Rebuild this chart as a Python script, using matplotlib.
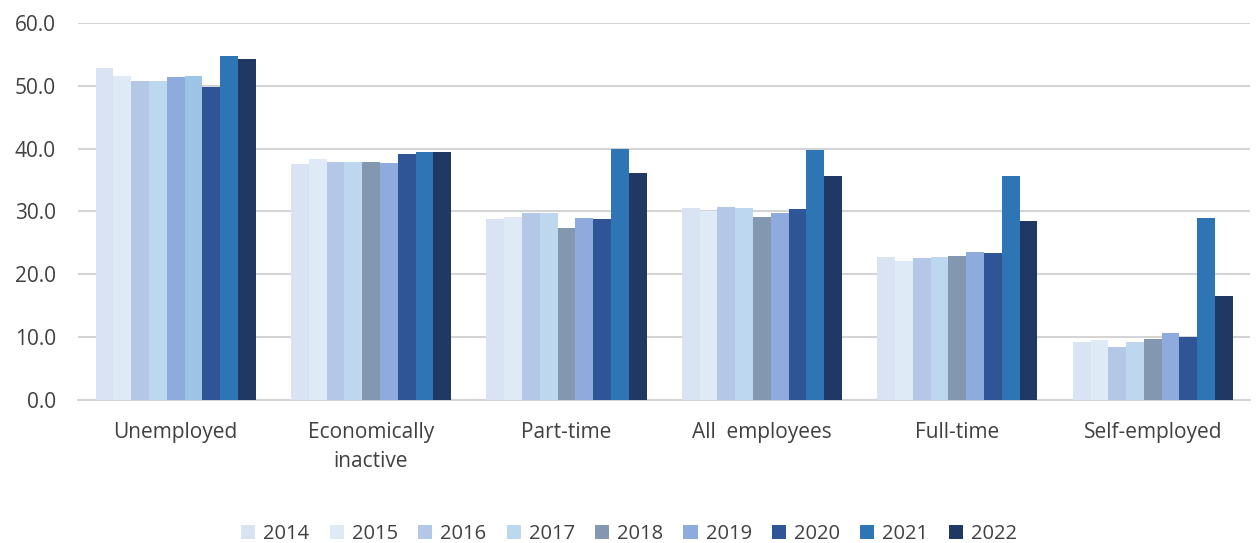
import numpy as np
import matplotlib.pyplot as plt
from matplotlib.patches import Patch

# ===== Dati =====
categories = ['Unemployed', 'Economically\ninactive', 'Part-time',
              'All  employees', 'Full-time', 'Self-employed']
years = ['2014', '2015', '2016', '2017', '2018', '2019', '2020', '2021', '2022']

values = {
    '2014': [52.8, 37.5, 28.8, 30.5, 22.8, 9.3],
    '2015': [51.6, 38.3, 29.1, 30.1, 22.2, 9.5],
    '2016': [50.7, 37.9, 29.8, 30.7, 22.6, 8.5],
    '2017': [50.7, 37.9, 29.8, 30.5, 22.8, 9.3],
    '2018': [51.4, 37.9, 27.3, 29.1, 23.0, 9.8],
    '2019': [51.6, 37.7, 28.9, 29.7, 23.6, 10.7],
    '2020': [49.8, 39.2, 28.8, 30.4, 23.4, 10.0],
    '2021': [54.7, 39.5, 39.9, 39.8, 35.6, 28.9],
    '2022': [54.3, 39.5, 36.1, 35.6, 28.5, 16.5],
}

colors = ['#dae3f3', '#deebf7', '#b4c7e7', '#bdd7ee', '#8497b0',
          '#8faadc', '#2f5597', '#2e75b6', '#203864']

# nel gruppo "Unemployed" le barre 2018/2019 hanno colori diversi
override = {('2018', 0): '#8faadc', ('2019', 0): '#9dc3e6'}

# ===== Grafico =====
plt.rcParams['font.family'] = ['Open Sans', 'DejaVu Sans']
fig = plt.figure(figsize=(12.58, 5.43), dpi=100)
ax = fig.add_axes([0.062, 0.263, 0.932, 0.695])

x = np.arange(len(categories))
n = len(years)
w = 0.091
for i, (y, c) in enumerate(zip(years, colors)):
    bar_colors = [override.get((y, j), c) for j in range(len(categories))]
    ax.bar(x + (i - (n - 1) / 2) * w, values[y], width=w,
           color=bar_colors, zorder=3)

ax.set_ylim(0, 60)
ax.set_xlim(-0.5, len(categories) - 0.5)
ax.set_yticks(np.arange(0, 61, 10))
ax.set_yticklabels([f'{v:.1f}' for v in np.arange(0, 61, 10)])
ax.set_xticks(x)
ax.set_xticklabels(categories, va='top', linespacing=1.45)

ax.grid(axis='y', color='#d4d4d4', linewidth=1.5, zorder=0)
for s in ['top', 'right', 'left']:
    ax.spines[s].set_visible(False)
ax.spines['bottom'].set_color('#d4d4d4')
ax.spines['bottom'].set_linewidth(1.5)
ax.tick_params(axis='both', length=0, labelsize=15, colors='#404040', pad=16)
ax.tick_params(axis='x', pad=16)

handles = [Patch(facecolor=c) for c in colors]
fig.legend(handles, years, loc='lower center', ncol=n, frameon=False,
           fontsize=14.5, bbox_to_anchor=(0.5, -0.035), handlelength=0.7,
           handleheight=0.7, handletextpad=0.4, columnspacing=1.0,
           labelcolor='#404040')

fig.savefig('out.png', dpi=100)
